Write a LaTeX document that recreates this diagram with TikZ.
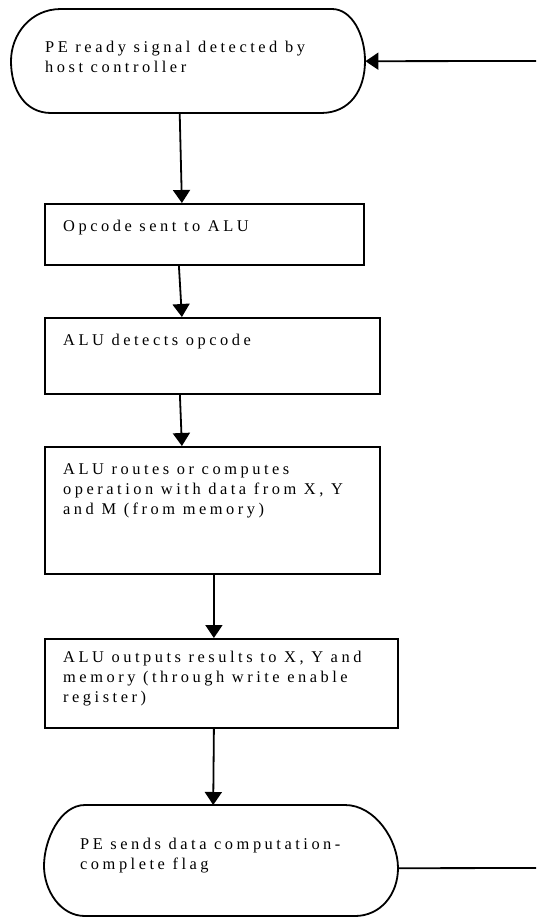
\documentclass[tikz,border=0pt]{standalone}
\usepackage{fontspec}
\setmainfont{Liberation Serif}[LetterSpace=21.5]
\usetikzlibrary{arrows.meta}
\tikzset{
  lw/.style={line width=1.8pt},
  frame/.style={shape=rectangle, draw=none, inner sep=0pt, anchor=north west},
  boxst/.style={shape=rectangle, draw, lw, inner sep=0pt, anchor=north west},
  txt/.style={inner sep=0pt, anchor=base west, align=left, font=\fontsize{16.4}{20}\selectfont},
  conn/.style={lw, -{Triangle[length=13pt,width=17pt]}},
  plain/.style={lw}
}
\begin{document}
\begin{tikzpicture}[x=1pt,y=-1pt]
\useasboundingbox (0,0) rectangle (536,917);
% top terminator
\node[frame, minimum width=354pt, minimum height=104pt] (top) at (11,9) {};
\draw[lw] (61,9) -- (332,9) .. controls (352,9) and (365,35) .. (365,61)
  .. controls (365,90) and (350,113) .. (321,113) -- (51,113)
  .. controls (25,113) and (11,90) .. (11,61)
  .. controls (11,35) and (30,9) .. (61,9) -- cycle;
\node[txt] (topt) at (45,72.5) {PE ready signal detected by\\host controller};
% boxes
\node[boxst, minimum width=319pt, minimum height=61pt] (b1) at (44,203) {};
\node[txt] (b1t) at (63,231) {Opcode sent to ALU};
\node[boxst, minimum width=335pt, minimum height=76pt] (b2) at (44,317) {};
\node[txt] (b2t) at (63,345) {ALU detects opcode};
\node[boxst, minimum width=335pt, minimum height=127pt] (b3) at (44,446) {};
\node[txt] (b3t) at (63,514) {ALU routes or computes\\operation with data from X, Y\\and M (from memory)};
\node[boxst, minimum width=353pt, minimum height=89pt] (b4) at (44,638) {};
\node[txt] (b4t) at (63,702) {ALU outputs results to X, Y and\\memory (through write enable\\register)};
% bottom terminator
\node[frame, minimum width=354pt, minimum height=111pt] (bot) at (44,805) {};
\draw[lw] (85,805) -- (345,805) .. controls (375,805) and (398,840) .. (398,868)
  .. controls (398,895) and (380,916) .. (355,916) -- (85,916)
  .. controls (60,916) and (44,890) .. (44,866)
  .. controls (44,840) and (60,805) .. (85,805) -- cycle;
\node[txt] (bott) at (80,869) {PE sends data computation-\\complete flag};
% connectors
\coordinate (inR) at (536,61);
\coordinate (outR) at (536,868);
\draw[conn] ([xshift=-8.5pt]top.south) -- ([xshift=-22.5pt]b1.north);
\draw[conn] ([xshift=-25.5pt]b1.south) -- ([xshift=-30.5pt]b2.north);
\draw[conn] ([xshift=-32.5pt]b2.south) -- ([xshift=-30.5pt]b3.north);
\draw[conn] ([xshift=1.5pt]b3.south) -- ([xshift=-7.5pt]b4.north);
\draw[conn] ([xshift=-7.5pt]b4.south) -- ([xshift=-8pt]bot.north);
\draw[conn] (inR) -- (top.east);
\draw[plain] ([yshift=-7.5pt]bot.east) -- (outR);
\end{tikzpicture}
\end{document}
